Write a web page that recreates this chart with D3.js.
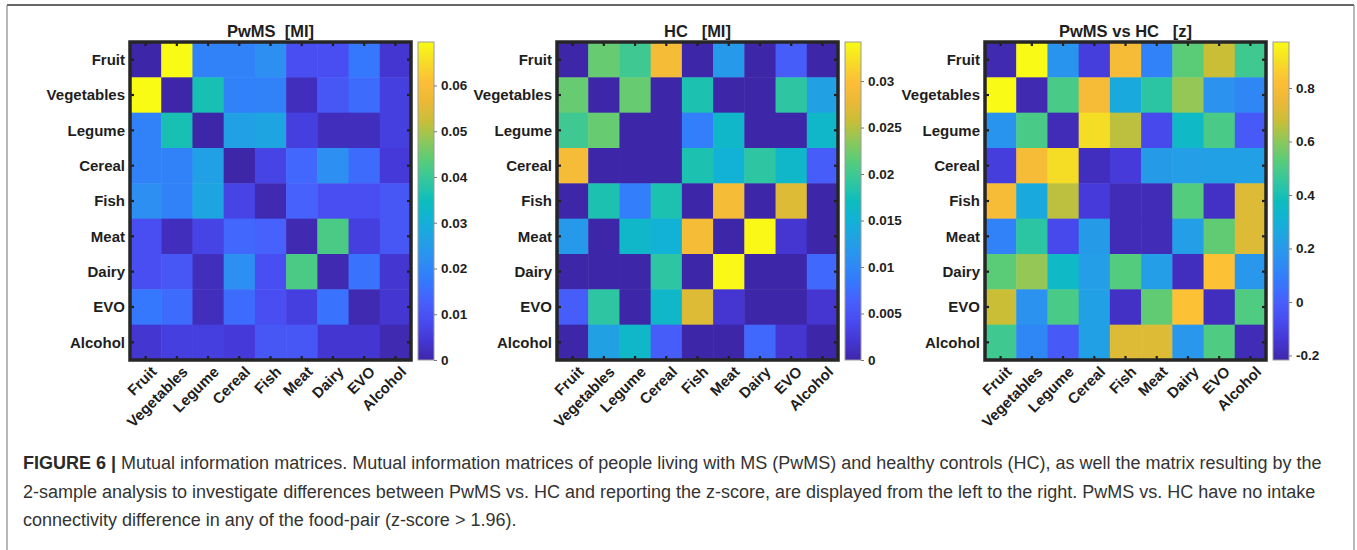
<!DOCTYPE html>
<html>
<head>
<meta charset="utf-8">
<script src="https://cdn.jsdelivr.net/npm/d3@7"></script>
<style>
  body { margin: 0; background: #fff; }
  svg { display: block; font-family: "Liberation Sans", Arial, Helvetica, sans-serif; }
  .ttl { white-space: pre; }
</style>
</head>
<body>
<svg id="fig" width="1357" height="550"></svg>
<script>
// food categories (rows and columns of every matrix)
const foods = ["Fruit", "Vegetables", "Legume", "Cereal", "Fish", "Meat", "Dairy", "EVO", "Alcohol"];

// PwMS mutual information
const pwmsMI = [
  [0.000, 0.0695, 0.019, 0.019, 0.022, 0.009, 0.009, 0.017, 0.004],
  [0.0695, 0.000, 0.036, 0.019, 0.019, 0.002, 0.011, 0.015, 0.006],
  [0.019, 0.036, 0.000, 0.026, 0.027, 0.006, 0.002, 0.002, 0.006],
  [0.019, 0.019, 0.026, 0.000, 0.007, 0.014, 0.022, 0.015, 0.005],
  [0.022, 0.019, 0.027, 0.007, 0.001, 0.013, 0.009, 0.009, 0.011],
  [0.009, 0.002, 0.007, 0.014, 0.013, 0.001, 0.042, 0.006, 0.011],
  [0.009, 0.011, 0.002, 0.022, 0.009, 0.042, 0.001, 0.016, 0.004],
  [0.017, 0.015, 0.002, 0.015, 0.009, 0.006, 0.016, 0.001, 0.004],
  [0.004, 0.006, 0.006, 0.005, 0.011, 0.011, 0.004, 0.004, 0.001]
];

// HC mutual information
const hcMI = [
  [0.000, 0.022, 0.020, 0.029, 0.000, 0.012, 0.000, 0.006, 0.000],
  [0.022, 0.000, 0.022, 0.000, 0.018, 0.000, 0.000, 0.019, 0.013],
  [0.020, 0.022, 0.000, 0.000, 0.009, 0.016, 0.000, 0.000, 0.016],
  [0.029, 0.000, 0.000, 0.000, 0.018, 0.015, 0.019, 0.016, 0.006],
  [0.000, 0.018, 0.009, 0.018, 0.000, 0.029, 0.000, 0.027, 0.000],
  [0.012, 0.000, 0.016, 0.015, 0.029, 0.000, 0.034, 0.002, 0.000],
  [0.000, 0.000, 0.000, 0.019, 0.000, 0.034, 0.000, 0.000, 0.007],
  [0.006, 0.019, 0.000, 0.016, 0.027, 0.002, 0.000, 0.000, 0.002],
  [0.000, 0.013, 0.016, 0.006, 0.000, 0.000, 0.007, 0.002, 0.000]
];

// PwMS vs HC z-scores
const zDiff = [
  [-0.20, 0.97, 0.18, -0.12, 0.80, 0.11, 0.53, 0.68, 0.48],
  [0.97, -0.20, 0.50, 0.80, 0.27, 0.44, 0.61, 0.17, 0.13],
  [0.18, 0.50, -0.19, 0.90, 0.66, -0.08, 0.35, 0.50, -0.02],
  [-0.12, 0.80, 0.90, -0.18, -0.13, 0.21, 0.22, 0.23, 0.23],
  [0.80, 0.27, 0.66, -0.13, -0.19, -0.19, 0.52, -0.17, 0.72],
  [0.11, 0.44, -0.08, 0.21, -0.19, -0.19, 0.22, 0.54, 0.72],
  [0.53, 0.61, 0.35, 0.22, 0.52, 0.22, -0.18, 0.83, 0.19],
  [0.68, 0.17, 0.50, 0.23, -0.17, 0.54, 0.83, -0.18, 0.51],
  [0.48, 0.13, -0.02, 0.23, 0.72, 0.72, 0.19, 0.51, -0.19]
];

const titles = ["PwMS  [MI]", "HC   [MI]", "PwMS vs HC   [z]"];
const colorDomains = [[0, 0.0695], [0, 0.0342], [-0.217, 0.972]];
const pwmsTicks = [0, 0.01, 0.02, 0.03, 0.04, 0.05, 0.06];
const hcTicks = [0, 0.005, 0.01, 0.015, 0.02, 0.025, 0.03];
const zTicks = [-0.2, 0, 0.2, 0.4, 0.6, 0.8];

const captionLines = [
  "Mutual information matrices. Mutual information matrices of people living with MS (PwMS) and healthy controls (HC), as well the matrix resulting by the",
  "2-sample analysis to investigate differences between PwMS vs. HC and reporting the z-score, are displayed from the left to the right. PwMS vs. HC have no intake",
  "connectivity difference in any of the food-pair (z-score > 1.96)."
];

// parula-like colormap stops
const parula = ["#3e26a8", "#4537d5", "#484cf0", "#4661fc", "#337afd", "#2d8ef2", "#22a0e5",
  "#12b1d6", "#0dbdbc", "#32c69f", "#57cc7a", "#8cc85a", "#c8be37", "#ebb937", "#fdbe37",
  "#f6dc26", "#f9fb15"];
const parulaInterp = d3.piecewise(d3.interpolateRgb, parula);

const svg = d3.select("#fig");
const W = 1357, H = 550;
svg.append("rect").attr("width", W).attr("height", H).attr("fill", "#fff");

// figure frame
svg.append("line").attr("x1", 7).attr("x2", 1354).attr("y1", 5).attr("y2", 5)
  .attr("stroke", "#333").attr("stroke-width", 1.5);
svg.append("line").attr("x1", 7).attr("x2", 7).attr("y1", 5).attr("y2", H)
  .attr("stroke", "#888").attr("stroke-width", 1.2);
svg.append("line").attr("x1", 1354).attr("x2", 1354).attr("y1", 5).attr("y2", H)
  .attr("stroke", "#888").attr("stroke-width", 1.2);

// matlab style labels use a plain hyphen for negatives
const hyph = f => v => f(v).replace("\u2212", "-");
const panels = [
  { data: pwmsMI, ticks: pwmsTicks, fmt: hyph(d3.format(".2~f")) },
  { data: hcMI, ticks: hcTicks, fmt: hyph(d3.format(".3~f")) },
  { data: zDiff, ticks: zTicks, fmt: hyph(d3.format(".1~f")) }
];
const heatX = [130, 557, 985];
const heatW = 281, heatTop = 42, heatH = 318;
const cbGap = 7, cbW = 16;
const ink = "#1e1e1e";

const defs = svg.append("defs");

panels.forEach((p, k) => {
  const x0 = heatX[k];
  const x = d3.scaleBand().domain(foods).range([x0, x0 + heatW]);
  const y = d3.scaleBand().domain(foods).range([heatTop, heatTop + heatH]);
  const c = d3.scaleLinear().domain(colorDomains[k]).range([0, 1]).clamp(true);
  const g = svg.append("g");

  const cells = [];
  p.data.forEach((row, i) => row.forEach((v, j) => cells.push({ r: foods[i], col: foods[j], v })));

  g.selectAll("rect.cell").data(cells).join("rect")
    .attr("class", "cell")
    .attr("x", d => x(d.col))
    .attr("y", d => y(d.r))
    .attr("width", x.bandwidth() + 0.5)
    .attr("height", y.bandwidth() + 0.5)
    .attr("fill", d => parulaInterp(c(d.v)));

  // inward tick marks on all four sides
  const tk = g.append("g").attr("stroke", ink).attr("stroke-width", 2.2);
  foods.forEach(f => {
    const cx = x(f) + x.bandwidth() / 2, cy = y(f) + y.bandwidth() / 2;
    tk.append("line").attr("x1", cx).attr("x2", cx).attr("y1", heatTop).attr("y2", heatTop + 4);
    tk.append("line").attr("x1", cx).attr("x2", cx).attr("y1", heatTop + heatH).attr("y2", heatTop + heatH - 4);
    tk.append("line").attr("y1", cy).attr("y2", cy).attr("x1", x0).attr("x2", x0 + 4);
    tk.append("line").attr("y1", cy).attr("y2", cy).attr("x1", x0 + heatW).attr("x2", x0 + heatW - 4);
  });

  g.append("rect")
    .attr("x", x0).attr("y", heatTop).attr("width", heatW).attr("height", heatH)
    .attr("fill", "none").attr("stroke", "#262626").attr("stroke-width", 3.5);

  // title
  g.append("text").attr("class", "ttl")
    .attr("x", x0 + heatW / 2).attr("y", 37)
    .attr("text-anchor", "middle").attr("font-size", 16.5).attr("font-weight", "bold")
    .attr("fill", ink).text(titles[k]);

  // row labels
  g.selectAll("text.ylab").data(foods).join("text")
    .attr("class", "ylab")
    .attr("x", x0 - 5).attr("y", d => y(d) + y.bandwidth() / 2)
    .attr("dy", "0.36em").attr("text-anchor", "end")
    .attr("font-size", 15).attr("font-weight", "bold").attr("fill", ink)
    .text(d => d);

  // column labels
  g.selectAll("text.xlab").data(foods).join("text")
    .attr("class", "xlab")
    .attr("transform", d => `translate(${x(d) + x.bandwidth() / 2 + 8},${heatTop + heatH + 9}) rotate(-45)`)
    .attr("dy", "0.36em").attr("text-anchor", "end")
    .attr("font-size", 15).attr("font-weight", "bold").attr("fill", ink)
    .text(d => d);

  // colorbar
  const cbX = x0 + heatW + cbGap;
  const gid = "grad" + k;
  const grad = defs.append("linearGradient").attr("id", gid)
    .attr("x1", 0).attr("x2", 0).attr("y1", 1).attr("y2", 0);
  d3.range(0, 1.0001, 1 / 64).forEach(t => {
    grad.append("stop").attr("offset", t).attr("stop-color", parulaInterp(t));
  });
  g.append("rect").attr("x", cbX).attr("y", heatTop).attr("width", cbW).attr("height", heatH)
    .attr("fill", `url(#${gid})`).attr("stroke", "#9a9a9a").attr("stroke-width", 1);

  const cy = d3.scaleLinear().domain(colorDomains[k]).range([heatTop + heatH, heatTop]);
  const axis = d3.axisRight(cy).tickValues(p.ticks).tickFormat(p.fmt).tickSize(3).tickPadding(4);
  const ag = g.append("g").attr("transform", `translate(${cbX + cbW},0)`).call(axis);
  ag.select(".domain").remove();
  ag.selectAll(".tick line").attr("stroke", "#777");
  ag.selectAll(".tick text").attr("font-size", 13.5).attr("font-weight", "bold")
    .attr("fill", ink).attr("font-family", "'Liberation Sans', Arial, sans-serif");
});

// caption
const cap = svg.append("g").attr("font-size", 18).attr("fill", "#333");
captionLines.forEach((line, i) => {
  const t = cap.append("text").attr("x", 23).attr("y", 469 + i * 28.5);
  if (i === 0) {
    t.append("tspan").attr("font-weight", "bold").attr("fill", "#2a2a2a").text("FIGURE 6 | ");
  }
  t.append("tspan").text(line);
});
</script>
</body>
</html>
